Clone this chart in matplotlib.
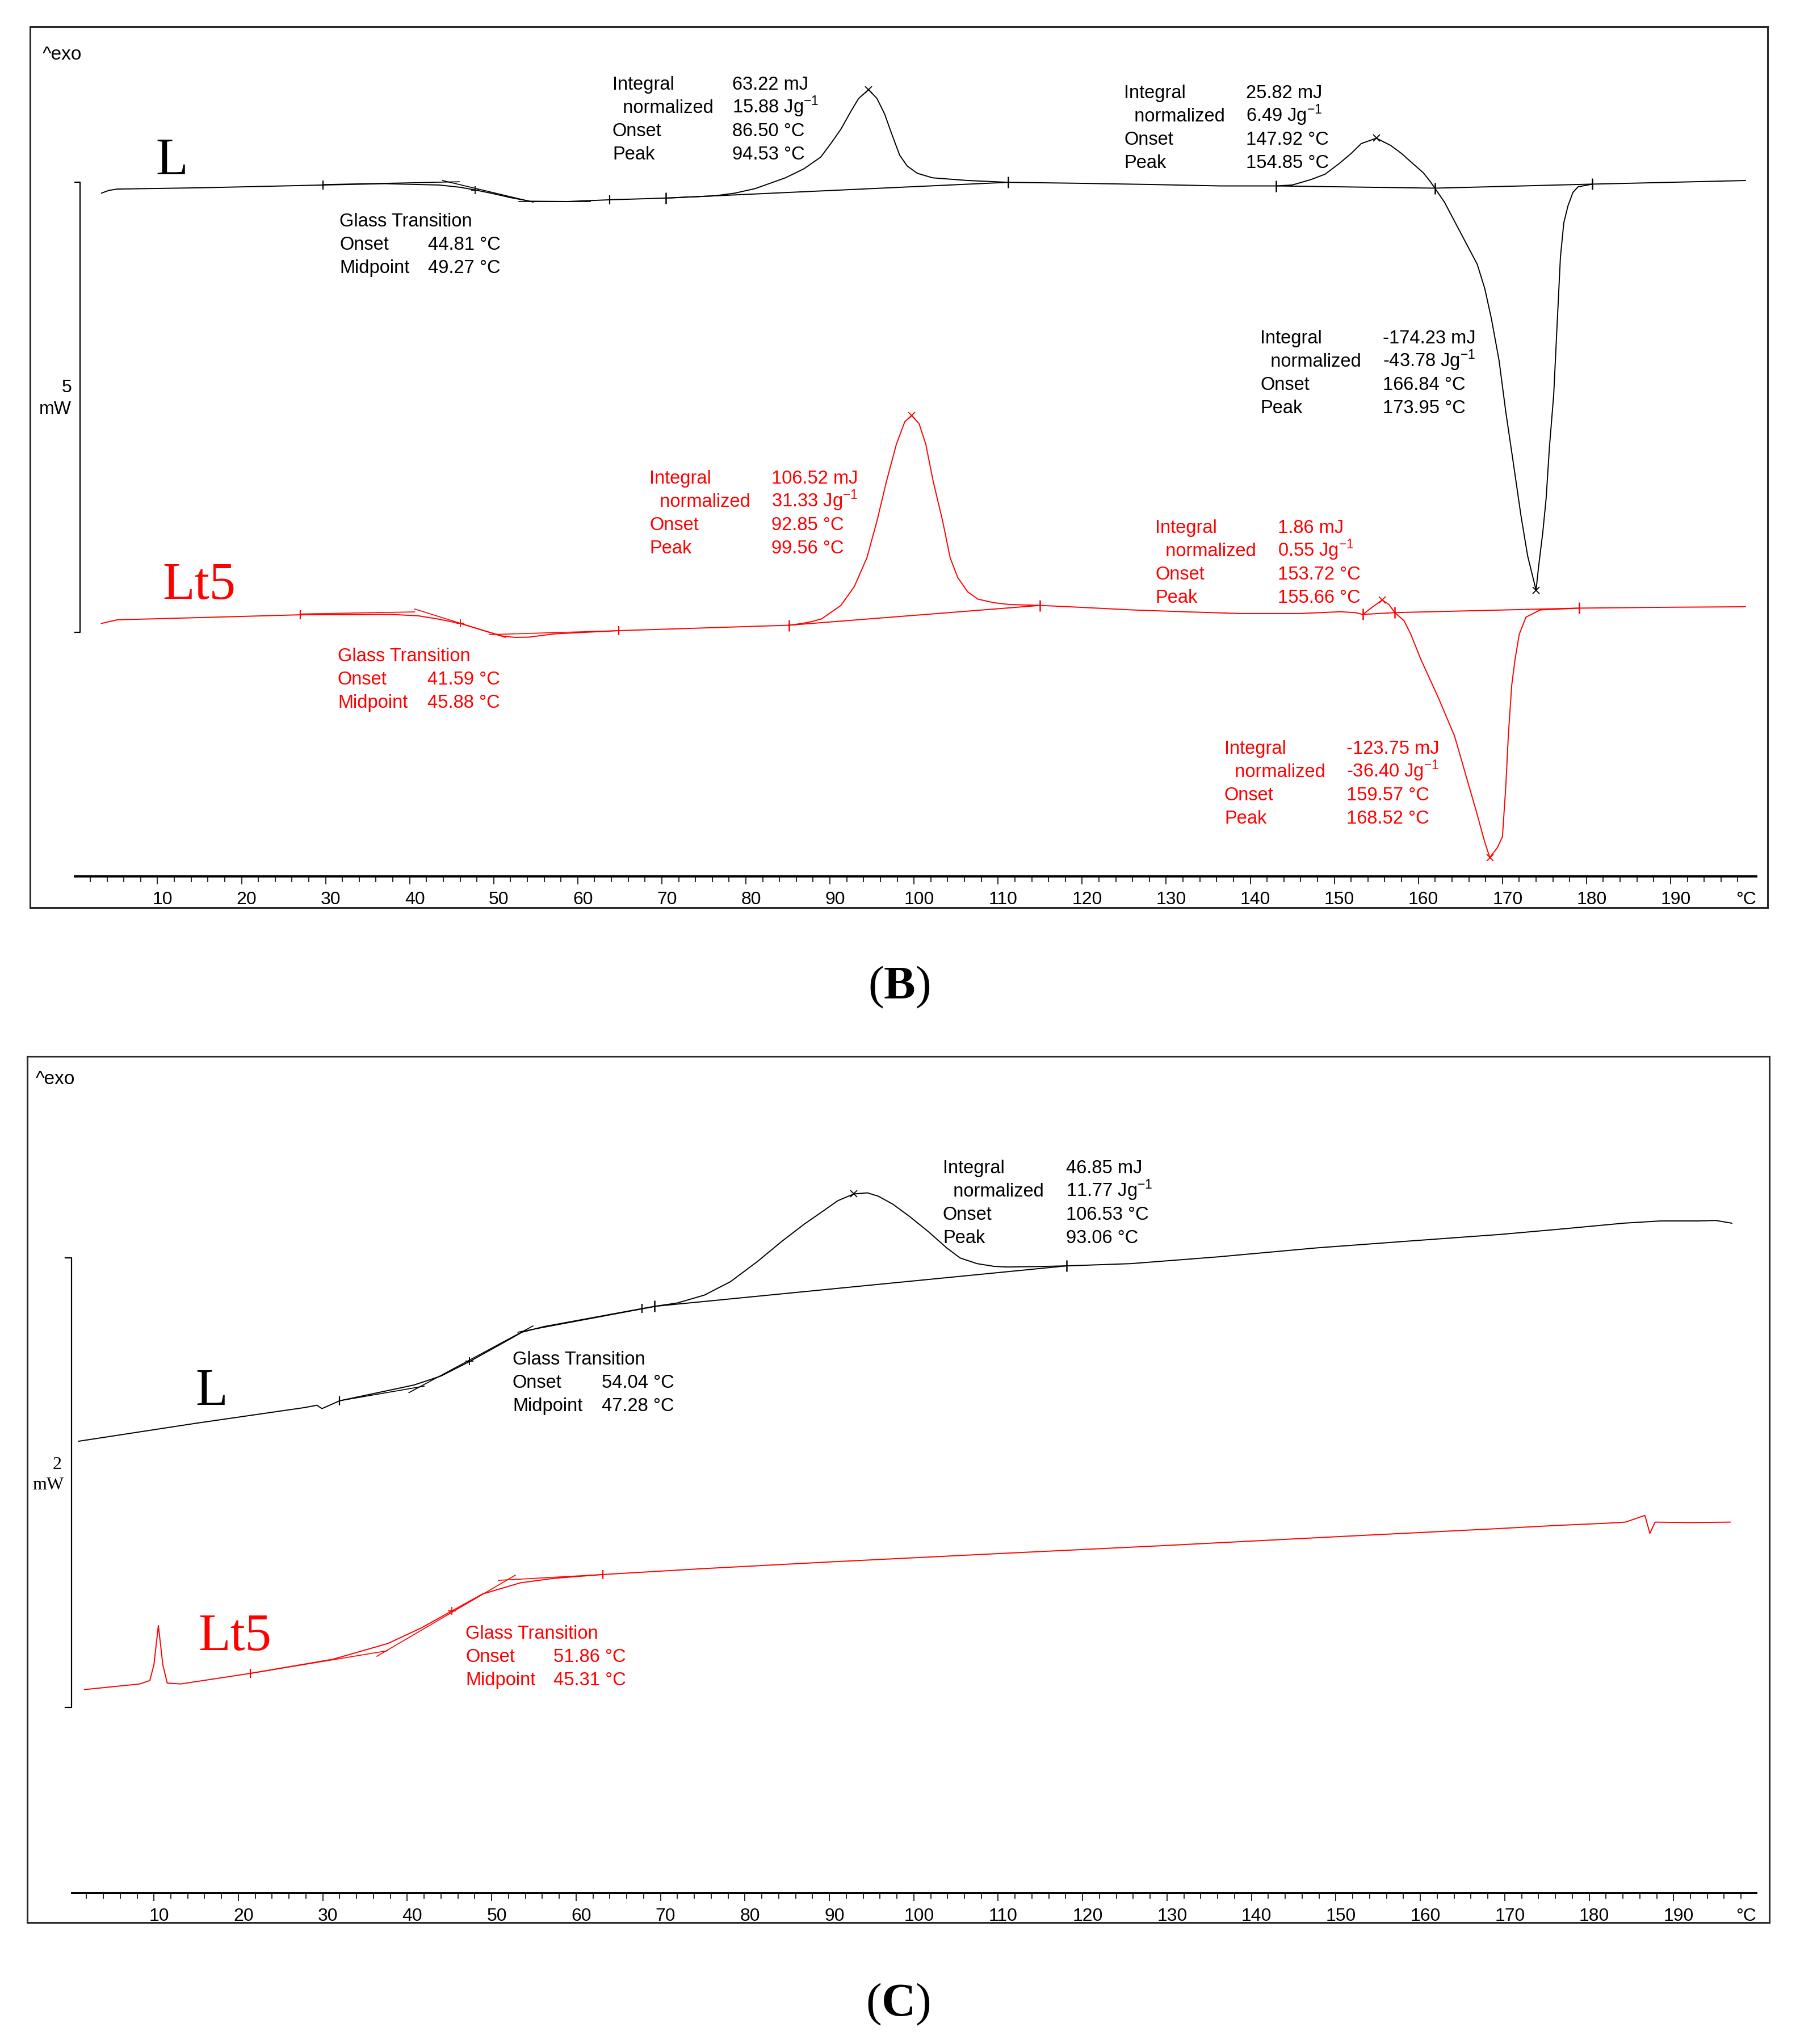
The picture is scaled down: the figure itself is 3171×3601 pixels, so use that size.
import matplotlib.pyplot as plt
from matplotlib.transforms import ScaledTranslation

plt.rcParams['font.family'] = ['Liberation Sans', 'DejaVu Sans']
plt.rcParams['mathtext.fontset'] = 'custom'
plt.rcParams['mathtext.rm'] = 'Liberation Sans'
plt.rcParams['mathtext.bf'] = 'Liberation Serif:bold'

W, H, DPI = 3171, 3601, 100
RED = '#ff0000'

# ---------------- panel B, sample L (black) : temperature (°C) / heat flow (mW)
bL_temp = [3.35, 4.2, 5.2, 15.5, 29.7, 37.0, 43.5, 46.0, 47.8, 49.9, 52.0, 54.3, 58.8, 63.8,
           70.5, 76.3, 78.7, 81.1, 84.7, 86.9, 88.9, 90.1, 91.3, 92.5, 93.4, 94.6, 95.6,
           96.5, 97.3, 98.3, 99.2, 100.4, 102.2, 106.4, 111.2, 119.1, 128.1, 136.4,
           143.1, 145.0, 147.2, 148.9, 150.6, 152.0, 153.2, 155.0, 156.7, 158.0, 159.2,
           160.6, 161.4, 162.0, 163.1, 164.4, 165.7, 167.0, 167.9, 168.7, 169.6, 170.4,
           171.3, 172.2, 173.0, 174.0, 174.3, 174.8, 175.2, 175.6, 176.1, 176.5, 176.9,
           177.3, 177.8, 178.4, 179.0, 180.7, 190.0, 198.9]
bL_mw = [7.59, 7.62, 7.635, 7.65, 7.68, 7.695, 7.68, 7.655, 7.625, 7.585, 7.54, 7.50, 7.497,
         7.516, 7.535, 7.56, 7.59, 7.64, 7.76, 7.86, 7.99, 8.14, 8.30, 8.50, 8.64, 8.74,
         8.64, 8.47, 8.26, 8.01, 7.89, 7.81, 7.76, 7.73, 7.71, 7.70, 7.686, 7.67,
         7.67, 7.68, 7.74, 7.80, 7.92, 8.03, 8.14, 8.20, 8.12, 8.03, 7.93,
         7.815, 7.72, 7.64, 7.49, 7.26, 7.03, 6.80, 6.53, 6.19, 5.73, 5.16,
         4.59, 4.01, 3.56, 3.18, 3.44, 3.82, 4.20, 4.78, 5.35, 6.12, 6.88,
         7.26, 7.45, 7.60, 7.66, 7.69, 7.71, 7.73]
bL_lim_t = [70.5, 111.2, 143.1, 162.0, 180.7]
bL_lim_mw = [7.535, 7.71, 7.67, 7.645, 7.69]
bL_gl_t = [29.7, 63.8]
bL_gl_mw = [7.68, 7.516]
bL_mid = [47.8, 7.625]
bL_pk_t = [94.6, 155.0, 174.0]
bL_pk_mw = [8.74, 8.20, 3.18]
bL_base = [([70.5, 111.2], [7.535, 7.71]), ([143.1, 162.0], [7.67, 7.645]),
           ([162.0, 180.7], [7.645, 7.69])]
bL_tang = [([29.7, 45.9], [7.685, 7.716]), ([43.9, 54.7], [7.73, 7.49]),
           ([53.0, 61.5], [7.50, 7.50])]

# ---------------- panel B, sample Lt5 (red)
bLt5_temp = [3.33, 5.2, 15.0, 27.0, 37.8, 41.0, 43.3, 46.0, 48.5, 51.0, 52.5, 54.1, 57.2,
             64.9, 75.0, 85.1, 86.7, 87.8, 89.0, 91.3, 92.9, 94.4, 95.6, 96.7, 97.9, 98.9,
             99.7, 100.6, 101.4, 102.3, 103.4, 104.3, 105.2, 106.4, 107.6, 109.5, 111.4,
             115.0, 119.6, 126.0, 132.0, 138.9, 145.9, 150.7, 152.5, 153.4, 154.5, 155.7,
             156.5, 157.2, 158.3, 159.1, 160.3, 162.4, 164.3, 165.6, 166.9, 167.9, 168.5,
             169.4, 170.0, 170.4, 170.7, 171.1, 171.5, 172.0, 172.8, 174.5, 179.1, 190.0,
             198.9]
bLt5_mw = [2.81, 2.85, 2.875, 2.906, 2.91, 2.895, 2.86, 2.81, 2.74, 2.67, 2.655, 2.657, 2.694,
           2.73, 2.76, 2.79, 2.81, 2.83, 2.86, 3.01, 3.22, 3.54, 3.95, 4.38, 4.80, 5.05,
           5.12, 5.03, 4.80, 4.38, 3.95, 3.54, 3.32, 3.16, 3.08, 3.04, 3.02,
           3.01, 2.99, 2.96, 2.94, 2.92, 2.92, 2.94, 2.93, 2.91, 2.99, 3.07,
           3.02, 2.93, 2.84, 2.69, 2.41, 1.98, 1.56, 1.14, 0.72, 0.38, 0.21,
           0.32, 0.44, 1.00, 1.56, 2.12, 2.41, 2.69, 2.88, 2.96, 2.98, 2.99,
           2.995]
bLt5_lim_t = [85.1, 115.0, 153.4, 157.2, 179.1]
bLt5_lim_mw = [2.79, 3.01, 2.91, 2.93, 2.98]
bLt5_gl_t = [27.0, 64.9]
bLt5_gl_mw = [2.906, 2.73]
bLt5_mid = [46.0, 2.81]
bLt5_pk_t = [99.7, 155.7, 168.5]
bLt5_pk_mw = [5.12, 3.07, 0.21]
bLt5_base = [([85.1, 115.0], [2.79, 3.01]), ([153.4, 157.2], [2.91, 2.93]),
             ([157.2, 179.1], [2.93, 2.98])]
bLt5_tang = [([27.0, 40.6], [2.915, 2.938]), ([40.6, 51.4], [2.97, 2.655]),
             ([49.5, 64.9], [2.686, 2.73])]

# ---------------- panel C, sample L (black)
cL_temp = [1.1, 15.0, 27.9, 29.3, 29.9, 32.0, 40.8, 44.0, 47.4, 51.0, 53.6, 56.2, 62.0,
           67.8, 69.3, 72.0, 75.2, 78.3, 81.5, 84.4, 87.0, 89.3, 91.0, 92.9, 94.5, 95.8,
           97.5, 99.5, 101.8, 103.9, 105.5, 107.5, 109.5, 111.1, 114.5, 118.1, 125.7,
           136.0, 147.7, 158.5, 169.5, 177.0, 184.1, 188.5, 192.8, 195.0, 196.9]
cL_mw = [2.01, 2.09, 2.16, 2.17, 2.155, 2.19, 2.26, 2.30, 2.365, 2.44, 2.495, 2.52, 2.56,
         2.60, 2.61, 2.625, 2.66, 2.72, 2.81, 2.90, 2.975, 3.035, 3.08, 3.11, 3.115, 3.10,
         3.065, 3.01, 2.94, 2.87, 2.825, 2.80, 2.788, 2.785, 2.787, 2.79, 2.80,
         2.83, 2.87, 2.90, 2.93, 2.955, 2.98, 2.99, 2.99, 2.992, 2.98]
cL_lim_t = [69.3, 118.1]
cL_lim_mw = [2.61, 2.79]
cL_gl_t = [32.0, 67.8]
cL_gl_mw = [2.19, 2.60]
cL_mid = [47.4, 2.365]
cL_pk_t = [92.9]
cL_pk_mw = [3.11]
cL_base = [([69.3, 118.1], [2.61, 2.79])]
cL_tang = [([32.0, 42.0], [2.19, 2.255]), ([40.2, 54.9], [2.226, 2.523]),
           ([53.1, 69.3], [2.495, 2.609])]

# ---------------- panel C, sample Lt5 (red)
cLt5_temp = [1.76, 8.31, 9.5, 9.99, 10.52, 11.05, 11.57, 13.15, 21.4, 31.2, 37.7, 41.7,
             45.3, 48.9, 53.4, 57.4, 63.2, 75.0, 90.1, 110.0, 129.3, 150.0, 168.6, 176.0,
             182.0, 184.3, 186.6, 187.2, 187.8, 192.0, 196.7]
cLt5_mw = [0.905, 0.93, 0.945, 1.015, 1.19, 1.015, 0.934, 0.93, 0.977, 1.04, 1.11, 1.18,
           1.255, 1.33, 1.38, 1.40, 1.417, 1.443, 1.473, 1.51, 1.545, 1.585, 1.62, 1.635,
           1.645, 1.65, 1.68, 1.60, 1.65, 1.648, 1.65]
cLt5_gl_t = [21.4, 63.2]
cLt5_gl_mw = [0.977, 1.417]
cLt5_mid = [45.3, 1.255]
cLt5_tang = [([21.4, 37.7], [0.977, 1.078]), ([36.4, 52.8], [1.053, 1.414]),
             ([50.8, 63.2], [1.391, 1.417])]

# ---------------- annotation texts
peak_rows = ['Integral', '  normalized', 'Onset', 'Peak']
glass_rows = ['Glass Transition', 'Onset', 'Midpoint']
bL_glass_vals = ['', '44.81 °C', '49.27 °C']
bL_peak1_vals = ['63.22 mJ', '15.88 Jg$^{-1}$', '86.50 °C', '94.53 °C']
bL_peak2_vals = ['25.82 mJ', '6.49 Jg$^{-1}$', '147.92 °C', '154.85 °C']
bL_melt_vals = ['-174.23 mJ', '-43.78 Jg$^{-1}$', '166.84 °C', '173.95 °C']
bLt5_glass_vals = ['', '41.59 °C', '45.88 °C']
bLt5_peak1_vals = ['106.52 mJ', '31.33 Jg$^{-1}$', '92.85 °C', '99.56 °C']
bLt5_peak2_vals = ['1.86 mJ', '0.55 Jg$^{-1}$', '153.72 °C', '155.66 °C']
bLt5_melt_vals = ['-123.75 mJ', '-36.40 Jg$^{-1}$', '159.57 °C', '168.52 °C']
cL_glass_vals = ['', '54.04 °C', '47.28 °C']
cL_peak_vals = ['46.85 mJ', '11.77 Jg$^{-1}$', '106.53 °C', '93.06 °C']
cLt5_glass_vals = ['', '51.86 °C', '45.31 °C']

major_ticks = list(range(10, 200, 10))
minor_ticks = [t for t in range(2, 200, 2) if t % 10]

fig = plt.figure(figsize=(W / DPI, H / DPI), dpi=DPI)


def make_panel(frame, axis_x, axis_y, t_lim, px_per_mw):
    left, top, right, bottom = frame
    fr = fig.add_axes([left / W, 1 - bottom / H, (right - left) / W, (bottom - top) / H])
    fr.set_xticks([])
    fr.set_yticks([])
    for s in fr.spines.values():
        s.set_linewidth(2.2)
        s.set_color('#2a2a2a')
    x0, x1 = axis_x
    ax = fig.add_axes([x0 / W, 1 - axis_y / H, (x1 - x0) / W, (axis_y - top) / H])
    ax.patch.set_visible(False)
    ax.set_xlim(t_lim)
    ax.set_ylim(0, (axis_y - top) / px_per_mw)
    for s in ['top', 'left', 'right']:
        ax.spines[s].set_visible(False)
    ax.spines['bottom'].set_linewidth(2.8)
    ax.set_yticks([])
    ax.set_xticks(major_ticks)
    ax.set_xticks(minor_ticks, minor=True)
    ax.tick_params(axis='x', which='major', length=10, width=1.2, pad=9, labelsize=23)
    ax.tick_params(axis='x', which='minor', length=7, width=1.2)
    shift = ScaledTranslation(0.09, 0, fig.dpi_scale_trans)
    for tk in ax.xaxis.get_major_ticks():
        tk.label1.set_transform(tk.label1.get_transform() + shift)
    ax.annotate('°C', xy=(t_lim[1], 0), xytext=(0, -19), textcoords='offset points',
                ha='right', va='top', fontsize=23, annotation_clip=False)
    return ax


def draw_curve(ax, t, mw, color, lim=None, gl=None, mid=None, pk=None, base=(), tang=()):
    ax.plot(t, mw, color=color, lw=1.4, clip_on=False, solid_joinstyle='round')
    for bt, bm in base:
        ax.plot(bt, bm, color=color, lw=1.4)
    for tt, tm in tang:
        ax.plot(tt, tm, color=color, lw=1.2)
    if lim is not None:
        ax.plot(lim[0], lim[1], ls='none', marker='|', ms=15, mew=1.8, color=color)
    if gl is not None:
        ax.plot(gl[0], gl[1], ls='none', marker='|', ms=11, mew=1.6, color=color)
    if mid is not None:
        ax.plot(mid[0], mid[1], ls='none', marker='+', ms=10, mew=1.3, color=color)
    if pk is not None:
        ax.plot(pk[0], pk[1], ls='none', marker='x', ms=9, mew=1.3, color=color)


def block(xl, xv, y0, rows, vals, color, step=41):
    for i, (r, v) in enumerate(zip(rows, vals)):
        y = 1 - (y0 + i * step) / H
        fig.text(xl / W, y, r, color=color, fontsize=23.5, va='baseline')
        if v:
            fig.text(xv / W, y, v, color=color, fontsize=23.5, va='baseline')


def scale_bar(ax, t_bar, t_cap, m0, span):
    ax.plot([t_cap, t_bar, t_bar, t_cap], [m0, m0, m0 + span, m0 + span],
            color='black', lw=1.6, clip_on=False)


# ================= panel B
axB = make_panel((53, 47, 3114, 1599), (132, 3094), 1544, (0.18, 200.2), 793 / 5)
draw_curve(axB, bL_temp, bL_mw, 'black', (bL_lim_t, bL_lim_mw), (bL_gl_t, bL_gl_mw),
           bL_mid, (bL_pk_t, bL_pk_mw), bL_base, bL_tang)
draw_curve(axB, bLt5_temp, bLt5_mw, RED, (bLt5_lim_t, bLt5_lim_mw),
           (bLt5_gl_t, bLt5_gl_mw), bLt5_mid, (bLt5_pk_t, bLt5_pk_mw), bLt5_base, bLt5_tang)
scale_bar(axB, 0.78, 0.18, 2.711, 5)
fig.text(126 / W, 1 - 683 / H, '5', fontsize=23, ha='right', va='center')
fig.text(126 / W, 1 - 721 / H, 'mW', fontsize=23, ha='right', va='center')
fig.text(75 / W, 1 - 105 / H, '^exo', fontsize=24, va='baseline')
fig.text(274 / W, 1 - 307 / H, 'L', family='Liberation Serif', fontsize=67, va='baseline')
fig.text(286 / W, 1 - 1055 / H, 'Lt5', family='Liberation Serif', fontsize=67,
         va='baseline', color=RED)

block(598, 754, 399, glass_rows, bL_glass_vals, 'black')
block(1079, 1290, 158, peak_rows, bL_peak1_vals, 'black')
block(1980, 2195, 173, peak_rows, bL_peak2_vals, 'black')
block(2220, 2436, 605, peak_rows, bL_melt_vals, 'black')
block(1144, 1359, 852, peak_rows, bLt5_peak1_vals, RED)
block(595, 753, 1165, glass_rows, bLt5_glass_vals, RED)
block(2035, 2251, 939, peak_rows, bLt5_peak2_vals, RED)
block(2157, 2372, 1328, peak_rows, bLt5_melt_vals, RED)

fig.text(1584 / W, 1 - 1739 / H, r'($\mathbf{B}$)', family='Liberation Serif',
         fontsize=60, ha='center', va='center')

# ================= panel C
axC = make_panel((48, 1861, 3117, 3387), (127, 3094), 3335, (0.30, 199.8), 792 / 2)
draw_curve(axC, cL_temp, cL_mw, 'black', (cL_lim_t, cL_lim_mw), (cL_gl_t, cL_gl_mw),
           cL_mid, (cL_pk_t, cL_pk_mw), cL_base, cL_tang)
draw_curve(axC, cLt5_temp, cLt5_mw, RED, None, (cLt5_gl_t, cLt5_gl_mw), cLt5_mid,
           None, (), cLt5_tang)
scale_bar(axC, 0.24, -0.5, 0.826, 2)
fig.text(109 / W, 1 - 2581 / H, '2', family='Liberation Serif', fontsize=23,
         ha='right', va='center')
fig.text(113 / W, 1 - 2616 / H, 'mW', family='Liberation Serif', fontsize=23,
         ha='right', va='center')
fig.text(63 / W, 1 - 1910 / H, '^exo', fontsize=24, va='baseline')
fig.text(344 / W, 1 - 2475 / H, 'L', family='Liberation Serif', fontsize=67, va='baseline')
fig.text(349 / W, 1 - 2907 / H, 'Lt5', family='Liberation Serif', fontsize=67,
         va='baseline', color=RED)

block(903, 1060, 2404, glass_rows, cL_glass_vals, 'black')
block(1661, 1878, 2067, peak_rows, cL_peak_vals, 'black')
block(820, 975, 2887, glass_rows, cLt5_glass_vals, RED)

fig.text(1582 / W, 1 - 3531 / H, r'($\mathbf{C}$)', family='Liberation Serif',
         fontsize=60, ha='center', va='center')

fig.savefig('out.png', dpi=DPI)
